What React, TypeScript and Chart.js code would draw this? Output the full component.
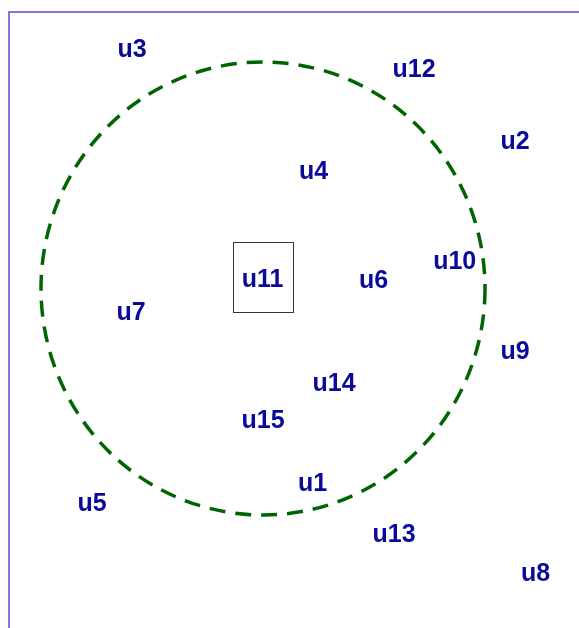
import React, { useEffect, useRef } from "react";
import { Chart, registerables } from "chart.js";

Chart.register(...registerables);

const LABELS = ["u1", "u2", "u3", "u4", "u5", "u6", "u7", "u8", "u9", "u10", "u11", "u12", "u13", "u14", "u15"];
const X_VALUES = [30.35, 50.6, 12.3, 30.45, 8.3, 36.45, 12.2, 52.65, 50.6, 44.57, 25.35, 40.5, 38.5, 32.5, 25.4];
const Y_VALUES = [17.0, 51.2, 60.35, 48.15, 15.0, 37.25, 34.1, 7.95, 30.2, 39.15, 37.4, 58.4, 11.9, 27.0, 23.3];

const CIRCLE_CENTER = [25.4, 36.35];
const CIRCLE_RADII = [22.2, 22.65];

const HIGHLIGHT_BOX_X = [22.37, 28.43];
const HIGHLIGHT_BOX_Y = [34.03, 41.03];

const X_RANGE = [0, 60];
const Y_RANGE = [0, 64];

export default function App() {
  const ref = useRef<HTMLCanvasElement | null>(null);

  useEffect(() => {
    const canvas = ref.current;
    if (!canvas) return;

    const overlay = {
      id: "overlay",
      afterDatasetsDraw(chart: any) {
        const ctx = chart.ctx;
        const xs = chart.scales.x;
        const ys = chart.scales.y;
        const area = chart.chartArea;
        ctx.save();

        // frame (left + top)
        ctx.strokeStyle = "#7b7bdb";
        ctx.lineWidth = 2;
        ctx.setLineDash([]);
        ctx.beginPath();
        ctx.moveTo(area.left, area.bottom);
        ctx.lineTo(area.left, area.top);
        ctx.lineTo(area.right, area.top);
        ctx.stroke();

        // dashed circle
        const cx = xs.getPixelForValue(CIRCLE_CENTER[0]);
        const cy = ys.getPixelForValue(CIRCLE_CENTER[1]);
        const rx = xs.getPixelForValue(CIRCLE_CENTER[0] + CIRCLE_RADII[0]) - cx;
        const ry = cy - ys.getPixelForValue(CIRCLE_CENTER[1] + CIRCLE_RADII[1]);
        ctx.strokeStyle = "#006400";
        ctx.lineWidth = 3.5;
        ctx.setLineDash([16, 10]);
        ctx.beginPath();
        ctx.ellipse(cx, cy, rx, ry, 0, 0, Math.PI * 2);
        ctx.stroke();

        // highlight box
        const bx0 = Math.round(xs.getPixelForValue(HIGHLIGHT_BOX_X[0])) + 0.5;
        const bx1 = Math.round(xs.getPixelForValue(HIGHLIGHT_BOX_X[1])) + 0.5;
        const by0 = Math.round(ys.getPixelForValue(HIGHLIGHT_BOX_Y[1])) + 0.5;
        const by1 = Math.round(ys.getPixelForValue(HIGHLIGHT_BOX_Y[0])) + 0.5;
        ctx.setLineDash([]);
        ctx.strokeStyle = "#333333";
        ctx.lineWidth = 1;
        ctx.strokeRect(bx0, by0, bx1 - bx0, by1 - by0);

        // labels
        ctx.fillStyle = "#0a0a9a";
        ctx.font = "bold 25px 'Liberation Sans', Arial, sans-serif";
        ctx.textAlign = "center";
        ctx.textBaseline = "middle";
        const meta = chart.getDatasetMeta(0);
        meta.data.forEach((pt: any, i: number) => {
          ctx.fillText(LABELS[i], pt.x, pt.y + 2);
        });
        ctx.restore();
      },
    };

    const chart = new Chart(canvas, {
      type: "scatter",
      data: {
        labels: LABELS,
        datasets: [
          {
            label: "users",
            data: X_VALUES.map((x, i) => ({ x, y: Y_VALUES[i] })),
            pointRadius: 0,
            pointHoverRadius: 0,
            showLine: false,
          },
        ],
      },
      options: {
        responsive: false,
        animation: false,
        devicePixelRatio: 1,
        layout: { padding: { left: 9, top: 12, right: 0, bottom: 0 } },
        plugins: { legend: { display: false }, tooltip: { enabled: false } },
        scales: {
          x: { type: "linear", min: X_RANGE[0], max: X_RANGE[1], display: false },
          y: { type: "linear", min: Y_RANGE[0], max: Y_RANGE[1], display: false },
        },
      },
      plugins: [overlay],
    });
    return () => chart.destroy();
  }, []);

  return (
    <div
      style={{
        position: "fixed",
        left: 0,
        top: 0,
        width: 579,
        height: 628,
        overflow: "hidden",
        background: "#ffffff",
      }}
    >
      <canvas ref={ref} width={609} height={652} style={{ display: "block", width: 609, height: 652 }} />
    </div>
  );
}
